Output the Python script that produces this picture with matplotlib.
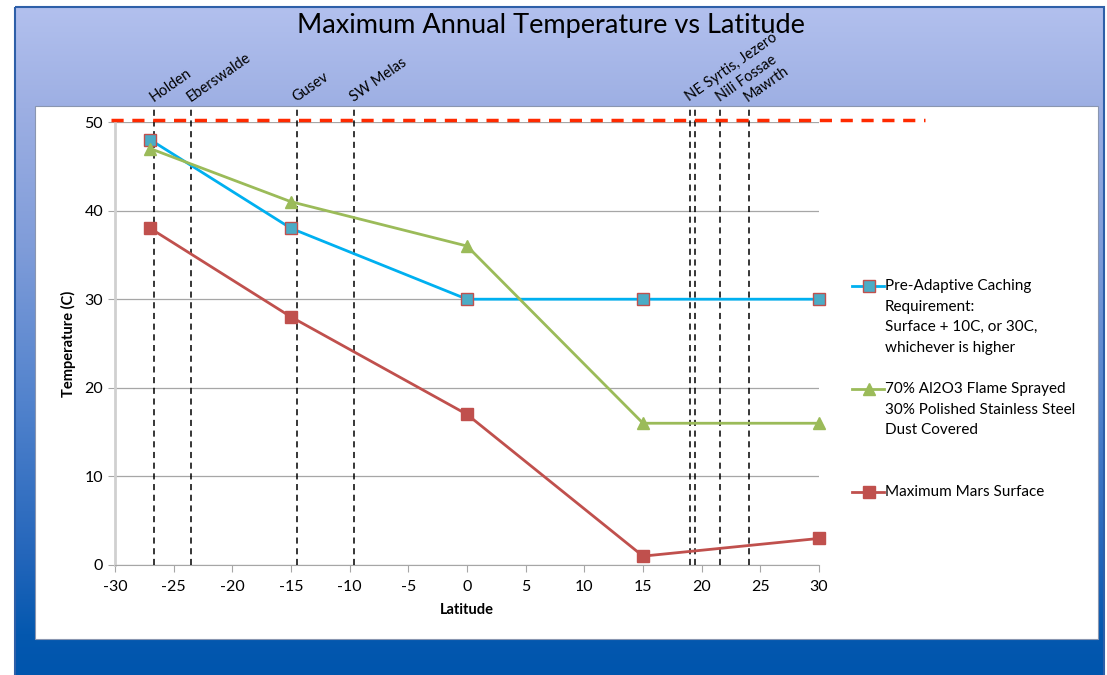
import numpy as np
import matplotlib.pyplot as plt
from matplotlib.colors import LinearSegmentedColormap
from matplotlib.patches import Rectangle

plt.rcParams['font.family'] = ['Lato', 'DejaVu Sans']
plt.rcParams['axes.unicode_minus'] = False

# Data
latitude = [-27, -15, 0, 15, 30]
caching_req = [48, 38, 30, 30, 30]
al2o3_steel = [47, 41, 36, 16, 16]
mars_surface = [38, 28, 17, 1, 3]

sites = ['Holden', 'Eberswalde', 'Gusev', 'SW Melas', 'NE Syrtis, Jezero', 'Nili Fossae', 'Mawrth']
site_lat = [-26.7, -23.5, -14.5, -9.6, 19.0, 21.6, 24.0]
extra_line_lat = [19.4]  # second line of the NE Syrtis / Jezero pair

labels = ['Pre-Adaptive Caching\nRequirement:\nSurface + 10C, or 30C,\nwhichever is higher',
          '70% Al2O3 Flame Sprayed\n30% Polished Stainless Steel\nDust Covered',
          'Maximum Mars Surface']

W, H = 1107, 675
fig = plt.figure(figsize=(W / 100, H / 100), dpi=100)

# background panel with vertical gradient
bg = fig.add_axes([0, 0, 1, 1])
bg.set_xlim(0, W)
bg.set_ylim(H, 0)
bg.axis('off')
grad = LinearSegmentedColormap.from_list('g', [
    (0.0, '#B2C0EE'), (0.15, '#9DAFE3'), (0.36, '#7F9CD9'),
    (0.59, '#5283CD'), (0.82, '#2466BB'), (0.94, '#0458AF'), (1.0, '#0055AD')])
bg.imshow(np.linspace(0, 1, 256).reshape(-1, 1), cmap=grad, aspect='auto',
          extent=[15, 1104, H, 7], zorder=0)
bg.add_patch(Rectangle((15, 7), 1089, H, fill=False, ec='#2E5FA8', lw=1.5, zorder=1))
bg.add_patch(Rectangle((35, 106), 1063, 533, fc='white', ec='#8A96B0', lw=0.8, zorder=2))
bg.text(551, 26, 'Maximum Annual Temperature vs Latitude', ha='center', va='center',
        fontsize=19.5, color='black', zorder=3)

ax = fig.add_axes([115 / W, (H - 565) / H, (819 - 115) / W, (565 - 122) / H])
ax.patch.set_alpha(0)
ax.set_xlim(-30, 30)
ax.set_ylim(0, 50)
ax.set_xticks(range(-30, 31, 5))
ax.set_yticks(range(0, 51, 10))
ax.grid(axis='y', color='#A6A6A6', lw=0.9)
ax.set_axisbelow(True)
for s in ['top', 'right']:
    ax.spines[s].set_visible(False)
ax.spines['left'].set_color('#D0D0D0')
ax.spines['left'].set_linewidth(2)
ax.spines['bottom'].set_color('#A6A6A6')
ax.tick_params(axis='both', colors='#A6A6A6', labelcolor='black', labelsize=11.5, length=5)
ax.tick_params(axis='x', pad=6)
ax.set_xlabel('Latitude', fontsize=10.5, fontweight='bold', labelpad=6)
ax.set_ylabel('Temperature (C)', fontsize=10.5, fontweight='bold', labelpad=6)

# red limit line at 50C, running past the plot area
ax.plot([-30.3, 39], [50.2, 50.2], color='#FF2A00', lw=2.5, ls=(0, (3.5, 2.5)),
        clip_on=False, zorder=5)

# site markers
for lat in site_lat + extra_line_lat:
    ax.plot([lat, lat], [0, 51.8], color='black', lw=1.1, ls=(0, (4, 3)),
            clip_on=False, zorder=3)
for name, lat in zip(sites, site_lat):
    ax.text(lat + 0.1, 52.0, name, rotation=35, ha='left', va='bottom',
            rotation_mode='anchor', fontsize=10.5, clip_on=False)

ax.plot(latitude, caching_req, color='#00B0F0', lw=2, marker='s', ms=8,
        mfc='#4BACC6', mec='#C0504D', mew=1, label=labels[0], zorder=6, clip_on=False)
ax.plot(latitude, al2o3_steel, color='#9BBB59', lw=2, marker='^', ms=9,
        mfc='#9BBB59', mec='#9BBB59', label=labels[1], zorder=6, clip_on=False)
ax.plot(latitude, mars_surface, color='#C0504D', lw=2, marker='s', ms=8,
        mfc='#C0504D', mec='#C0504D', label=labels[2], zorder=6, clip_on=False)

# legend built by hand to match the spacing
entry_y = [286, 389, 492]
handles = ax.get_lines()[-3:]
for h, y, lab in zip(handles, entry_y, labels):
    bg.plot([852, 884], [y, y], color=h.get_color(), lw=2, zorder=4)
    bg.plot([869], [y], marker=h.get_marker(), ms=8, mfc=h.get_markerfacecolor(),
            mec=h.get_markeredgecolor(), zorder=5)
    bg.text(885, y - 7, lab, ha='left', va='top', fontsize=11, linespacing=1.6, zorder=5)

fig.savefig('out.png', dpi=100)
